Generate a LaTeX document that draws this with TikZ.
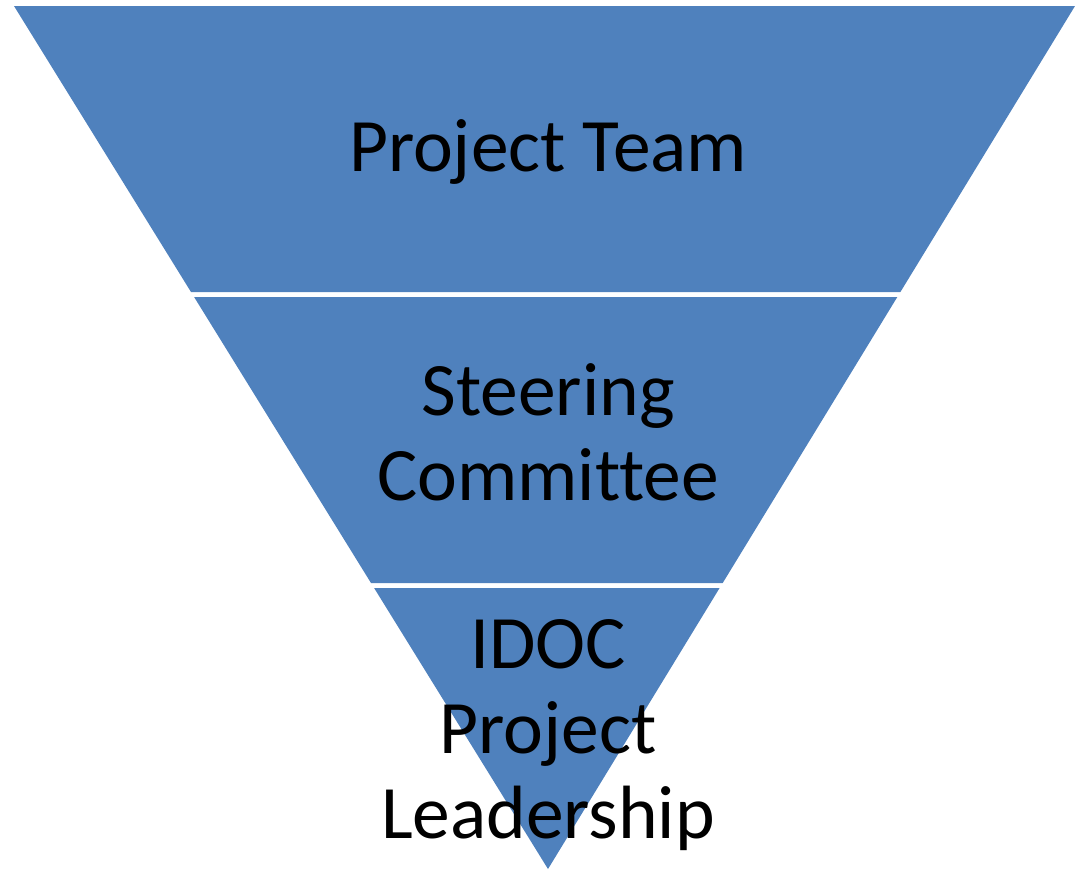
\documentclass[tikz,border=0pt]{standalone}
\usepackage{fontspec}
\setmainfont{Carlito}[Ligatures=NoCommon]
\usetikzlibrary{positioning, calc}
\definecolor{bandblue}{HTML}{4F81BD}

\begin{document}
\begin{tikzpicture}
    [
        x=1pt, y=-1pt,
        band/.style={fill=bandblue, draw=none},
        band_text/.style={align=center, text=black, inner sep=0pt, font=\fontsize{75.5}{85}\selectfont},
    ]

  \useasboundingbox (0,0) rectangle (1075,871);

  % the three bands of the funnel
  \draw[band] (14,6) -- (1075,6) -- (900.4,292) -- (191,292) -- cycle;
  \draw[band] (194.1,297) -- (897.3,297) -- (722.7,583) -- (371,583) -- cycle;
  \draw[band] (374.1,588) -- (719.6,588) -- (548,869) -- cycle;

  % labels, anchored at the baseline of their last line
  \node[band_text, anchor=base] (team) at (548,171) {Project Team};
  \node[band_text, anchor=base] (steering) at (548,500) {Steering\\Committee};
  \node[band_text, anchor=base] (leaders) at (548,838) {IDOC\\Project\\Leadership};
\end{tikzpicture}
\end{document}
